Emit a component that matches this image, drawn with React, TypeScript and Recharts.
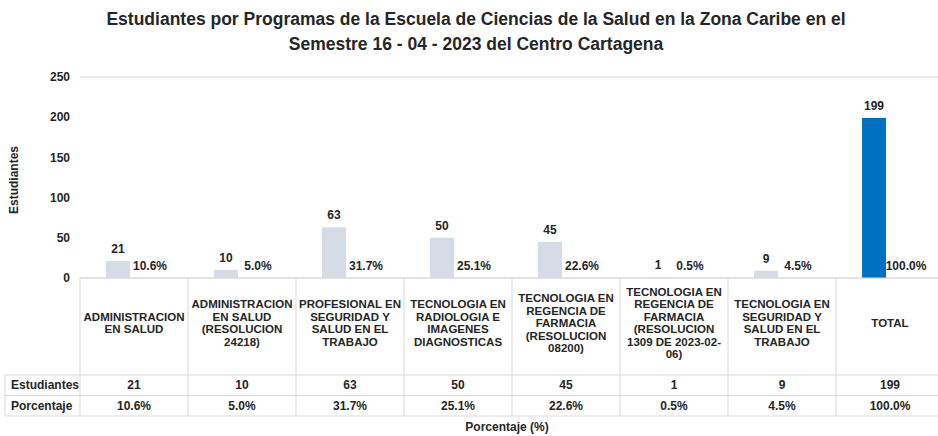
import React from 'react';
import { BarChart, Bar, XAxis, YAxis, CartesianGrid, Cell, LabelList } from 'recharts';

const programas = [
  'ADMINISTRACION EN SALUD',
  'ADMINISTRACION EN SALUD (RESOLUCION 24218)',
  'PROFESIONAL EN SEGURIDAD Y SALUD EN EL TRABAJO',
  'TECNOLOGIA EN RADIOLOGIA E IMAGENES DIAGNOSTICAS',
  'TECNOLOGIA EN REGENCIA DE FARMACIA (RESOLUCION 08200)',
  'TECNOLOGIA EN REGENCIA DE FARMACIA (RESOLUCION 1309 DE 2023-02-06)',
  'TECNOLOGIA EN SEGURIDAD Y SALUD EN EL TRABAJO',
  'TOTAL',
];
const estudiantes = [21, 10, 63, 50, 45, 1, 9, 199];
const porcentaje = [10.6, 5.0, 31.7, 25.1, 22.6, 0.5, 4.5, 100.0];
const yTicks = [0, 50, 100, 150, 200, 250];

const data = programas.map((p, i) => ({
  programa: p,
  estudiantes: estudiantes[i],
  porcentaje: porcentaje[i],
}));

const FONT = '"Liberation Sans", Arial, sans-serif';
const TEXT = '#262626';
const BORDER = '#d9d9d9';
const BAR = '#D6DCE5';
const TOTAL = '#0070C0';

// rough Arial Bold advance widths (em) for wrapping the header cells
function charWidth(c: string) {
  if (c === ' ') return 0.278;
  if ('()-'.includes(c)) return 0.333;
  if (/[0-9]/.test(c)) return 0.556;
  if (c === 'I') return 0.278;
  if (c === 'J') return 0.556;
  if ('FLT'.includes(c)) return 0.611;
  if ('EPSY'.includes(c)) return 0.667;
  if ('OGQ'.includes(c)) return 0.778;
  if (c === 'M') return 0.833;
  if (c === 'W') return 0.944;
  return 0.722;
}
const textWidth = (s: string) => s.split('').reduce((a, c) => a + charWidth(c), 0);

function wrap(text: string, maxEm = 9.36) {
  const pieces: { t: string; sp: boolean }[] = [];
  text.split(' ').forEach((w) => {
    w.split(/(?<=-)/).forEach((p, i) => pieces.push({ t: p, sp: i === 0 }));
  });
  const lines: string[] = [];
  let cur = '';
  pieces.forEach((p) => {
    const next = cur === '' ? p.t : cur + (p.sp ? ' ' : '') + p.t;
    if (cur !== '' && textWidth(next) > maxEm) {
      lines.push(cur);
      cur = p.t;
    } else cur = next;
  });
  if (cur) lines.push(cur);
  return lines;
}

const HEADER_H = 97;
const ROW_H = 20.5;

function TableTick(props: any) {
  const { x, y, payload, index } = props;
  const half = payload && payload.offset ? payload.offset : 54;
  const left = x - half;
  const right = x + half;
  const lines = wrap(String(payload.value));
  const lh = 12.5;
  const mid = y + 45;
  const r1 = y + HEADER_H;
  const r2 = r1 + ROW_H;
  const r3 = r2 + ROW_H;
  const txt = { fontFamily: FONT, fontWeight: 700, fill: TEXT };
  return (
    <g>
      <line x1={left} y1={y} x2={left} y2={r3} stroke={BORDER} />
      {index === programas.length - 1 && <line x1={right} y1={y} x2={right} y2={r3} stroke={BORDER} />}
      <line x1={left} y1={r1} x2={right} y2={r1} stroke={BORDER} />
      <line x1={left} y1={r2} x2={right} y2={r2} stroke={BORDER} />
      <line x1={left} y1={r3} x2={right} y2={r3} stroke={BORDER} />
      {lines.map((l, i) => (
        <text
          key={i}
          x={x}
          y={mid + (i - (lines.length - 1) / 2) * lh}
          textAnchor="middle"
          dominantBaseline="central"
          fontSize={11.5}
          {...txt}
        >
          {l}
        </text>
      ))}
      <text x={x} y={r1 + ROW_H / 2} textAnchor="middle" dominantBaseline="central" fontSize={12} {...txt}>
        {estudiantes[index]}
      </text>
      <text x={x} y={r2 + ROW_H / 2} textAnchor="middle" dominantBaseline="central" fontSize={12} {...txt}>
        {porcentaje[index].toFixed(1)}%
      </text>
      {index === 0 && (
        <g>
          <line x1={5} y1={r1} x2={left} y2={r1} stroke={BORDER} />
          <line x1={5} y1={r2} x2={left} y2={r2} stroke={BORDER} />
          <line x1={5} y1={r3} x2={left} y2={r3} stroke={BORDER} />
          <line x1={5} y1={r1} x2={5} y2={r3} stroke={BORDER} />
          <text x={11} y={r1 + ROW_H / 2} dominantBaseline="central" fontSize={12} {...txt}>
            Estudiantes
          </text>
          <text x={11} y={r2 + ROW_H / 2} dominantBaseline="central" fontSize={12} {...txt}>
            Porcentaje
          </text>
        </g>
      )}
    </g>
  );
}

function PctLabel(props: any) {
  const { x, y, width, height, value } = props;
  return (
    <text
      x={Number(x) + Number(width) / 2}
      y={Number(y) + Number(height) - 8}
      textAnchor="middle"
      fontFamily={FONT}
      fontWeight={700}
      fontSize={12}
      fill={TEXT}
    >
      {Number(value).toFixed(1)}%
    </text>
  );
}

export default function App() {
  return (
    <div style={{ position: 'relative', width: 938, height: 436, overflow: 'hidden', background: '#fff', fontFamily: FONT }}>
      <style>{'body{margin:0}'}</style>
      <div
        style={{
          position: 'absolute',
          top: 7,
          left: 0,
          width: 952,
          textAlign: 'center',
          fontWeight: 700,
          fontSize: 17.5,
          lineHeight: '25px',
          color: TEXT,
        }}
      >
        Estudiantes por Programas de la Escuela de Ciencias de la Salud en la Zona Caribe en el
        <br />
        Semestre 16 - 04 - 2023 del Centro Cartagena
      </div>
      <div
        style={{
          position: 'absolute',
          left: 14,
          top: 180,
          transform: 'translate(-50%, -50%) rotate(-90deg)',
          fontWeight: 700,
          fontSize: 12,
          color: TEXT,
          whiteSpace: 'nowrap',
        }}
      >
        Estudiantes
      </div>
      <div
        style={{
          position: 'absolute',
          left: 507,
          top: 427,
          transform: 'translate(-50%, -50%)',
          fontWeight: 700,
          fontSize: 12,
          color: TEXT,
          whiteSpace: 'nowrap',
        }}
      >
        Porcentaje (%)
      </div>
      <BarChart
        width={944}
        height={436}
        data={data}
        margin={{ top: 77, right: 0, bottom: 0, left: 0 }}
        barGap={8}
      >
        <CartesianGrid vertical={false} stroke={BORDER} />
        <XAxis
          dataKey="programa"
          interval={0}
          height={158}
          tickLine={false}
          tickSize={0}
          tickMargin={0}
          axisLine={{ stroke: BORDER }}
          tick={(p: any) => <TableTick {...p} />}
        />
        <YAxis
          yAxisId="left"
          width={80}
          domain={[0, 250]}
          ticks={yTicks}
          axisLine={false}
          tickLine={false}
          tickSize={0}
          tickMargin={10}
          tick={{ fontFamily: FONT, fontWeight: 700, fontSize: 12, fill: TEXT }}
        />
        <YAxis yAxisId="pct" hide domain={[0, 100]} />
        <Bar dataKey="estudiantes" yAxisId="left" barSize={24} isAnimationActive={false}>
          {data.map((d, i) => (
            <Cell key={d.programa} fill={i === data.length - 1 ? TOTAL : BAR} />
          ))}
          <LabelList
            dataKey="estudiantes"
            position="top"
            offset={8}
            style={{ fontFamily: FONT, fontWeight: 700, fontSize: 12, fill: TEXT }}
          />
        </Bar>
        <Bar dataKey="porcentaje" yAxisId="pct" barSize={24} fill="transparent" isAnimationActive={false}>
          <LabelList dataKey="porcentaje" content={PctLabel} />
        </Bar>
      </BarChart>
    </div>
  );
}
